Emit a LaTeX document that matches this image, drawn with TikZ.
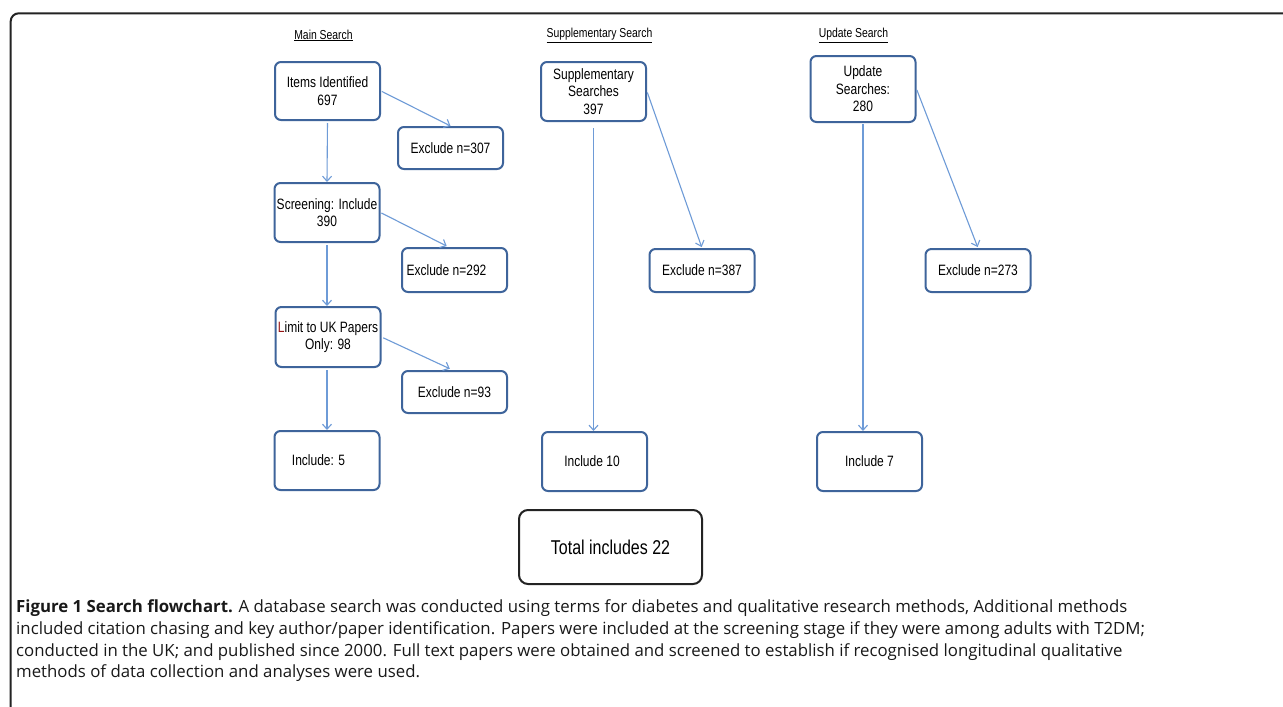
\documentclass[tikz,border=0pt]{standalone}
\usepackage{fontspec}
\setmainfont{Liberation Sans}
\newfontfamily\diafont[FakeStretch=0.8]{Liberation Sans}
\newfontfamily\capfont{Open Sans}
\usetikzlibrary{arrows.meta,calc}
\definecolor{boxblue}{RGB}{62,100,155}
\definecolor{arrowblue}{RGB}{110,155,215}
\definecolor{framegray}{RGB}{35,35,35}
\definecolor{darkredL}{RGB}{150,20,20}
\definecolor{captext}{RGB}{25,25,25}
\begin{document}
\begin{tikzpicture}[x=1pt,y=-1pt,
  box/.style={draw=boxblue, line width=2pt, rounded corners=6pt, fill=white,
    align=center, inner sep=0pt, minimum width=105pt,
    font=\diafont\fontsize{15}{17.5}\selectfont},
  totalbox/.style={draw=framegray, line width=2pt, rounded corners=9pt, fill=white,
    align=center, inner sep=0pt, minimum width=183pt, minimum height=74pt,
    font=\diafont\fontsize{20}{24}\selectfont},
  head/.style={font=\diafont\fontsize{13}{15}\selectfont, inner sep=0pt},
  arr/.style={draw=arrowblue, line width=1.1pt, -{Straight Barb[length=5pt,width=9pt]}},
  capline/.style={anchor=base west, inner sep=0pt, text=captext,
    font=\capfont\fontsize{16.8}{21.5}\selectfont}
]
\useasboundingbox (0,0) rectangle (1283,707);
\fill[white] (0,0) rectangle (1283,707);
% outer frame
\draw[framegray, line width=2pt, rounded corners=8pt] (10.7,707) -- (10.7,13.3) -- (1283,13.3);

% headers
\node[head] (h1) at (323.5,35.5) {\underline{Main Search}};
\node[head] (h2) at (599.5,35.5) {\underline{Supplementary Search}};
\node[head] (h3) at (853.5,35.5) {\underline{Update Search}};

% main search column
\node[box, minimum height=58pt] (items) at (327.5,91) {Items Identified\\697};
\node[box, minimum height=42pt] (ex1) at (450.5,148) {Exclude n=307};
\node[box, minimum height=59pt] (screen) at (327,212.5) {Screening: Include\\390};
\node[box, minimum height=44pt] (ex2) at (454.5,270) {\hspace*{-16pt}Exclude n=292};
\node[box, minimum height=60pt] (limit) at (328,337) {{\color{darkredL}L}imit to UK Papers\\Only: 98};
\node[box, minimum height=42pt] (ex3) at (454.5,392) {Exclude n=93};
\node[box, minimum height=59pt] (inc5) at (327,460.5) {\hspace*{-17pt}Include: 5};

% supplementary column
\node[box, minimum height=59pt] (supp) at (593.5,91.5) {Supplementary\\Searches\\397};
\node[box, minimum height=43pt] (ex4) at (702,270.5) {Exclude n=387};
\node[box, minimum height=59pt] (inc10) at (594.5,461.5) {\hspace*{-5pt}Include 10};

% update column
\node[box, minimum height=66pt] (upd) at (863,89) {Update\\Searches:\\280};
\node[box, minimum height=43pt] (ex5) at (978,270.5) {Exclude n=273};
\node[box, minimum height=59pt] (inc7) at (869.5,461.5) {Include 7};

% total
\node[totalbox] (total) at (610.5,547) {Total includes 22};

% connectors
\draw[arr, shorten <=2pt] (items.south) -- (screen.north);
\draw[arr, shorten <=1pt] (items.east) -- (ex1.north);
\draw[arr, shorten <=1pt, shorten >=2pt] (screen.east) -- ([xshift=-6pt]ex2.north);
\draw[arr, shorten <=2pt] (screen.south) -- (screen.south |- limit.north);
\draw[arr, shorten <=2pt, shorten >=3pt] (limit.east) -- ([xshift=-2pt]ex3.north);
\draw[arr, shorten <=2pt] ([xshift=-1pt]limit.south) -- ([xshift=-1pt]limit.south |- inc5.north);
\draw[arr, shorten <=1pt, shorten >=1pt] (supp.east) -- (ex4.north);
\draw[arr, shorten <=6pt] (supp.south) -- (supp.south |- inc10.north);
\draw[arr, shorten <=1pt, shorten >=1pt] (upd.east) -- (ex5.north);
\draw[arr, shorten <=1pt] (upd.south) -- (upd.south |- inc7.north);

% caption
\node[capline] (cap1) at (16,612) {{\bfseries Figure 1 Search flowchart.} A database search was conducted using terms for diabetes and qualitative research methods, Additional methods};
\node[capline] (cap2) at (16,634) {included citation chasing and key author/paper identification. Papers were included at the screening stage if they were among adults with T2DM;};
\node[capline] (cap3) at (16,656) {conducted in the UK; and published since 2000. Full text papers were obtained and screened to establish if recognised longitudinal qualitative};
\node[capline] (cap4) at (16,677) {methods of data collection and analyses were used.};
\end{tikzpicture}
\end{document}
